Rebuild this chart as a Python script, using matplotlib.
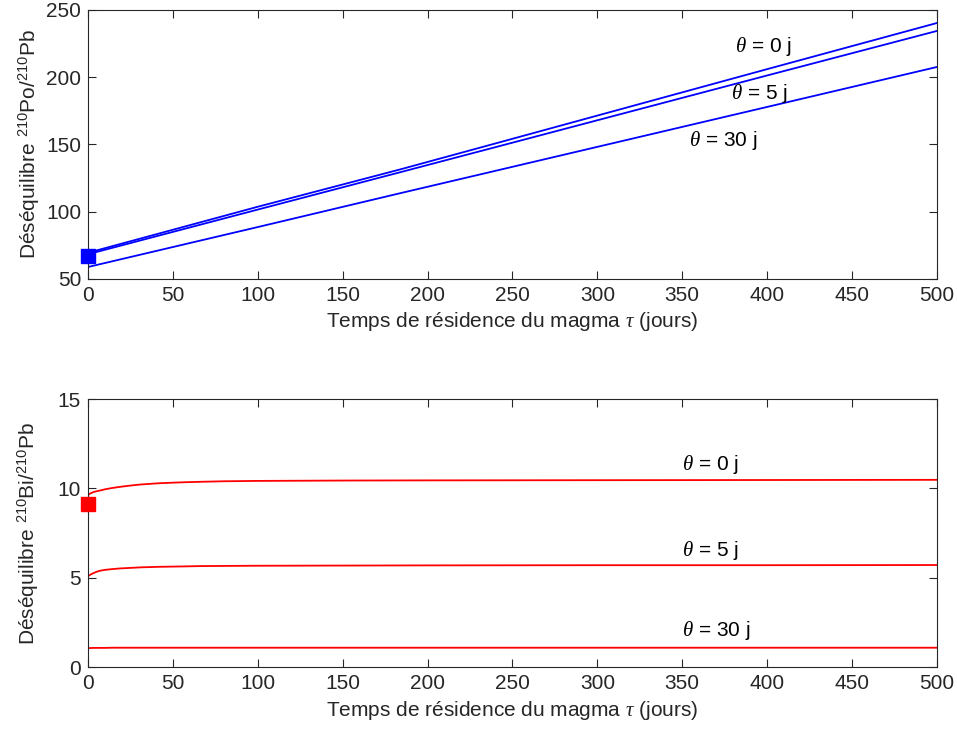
import numpy as np
import matplotlib
matplotlib.use('Agg')
import matplotlib.pyplot as plt

plt.rcParams['font.family'] = ['Liberation Sans', 'DejaVu Sans']
plt.rcParams['mathtext.fontset'] = 'custom'
plt.rcParams['mathtext.rm'] = 'Liberation Sans'
plt.rcParams['mathtext.it'] = 'Liberation Serif:italic'

# 210Po/210Pb (droites)
tau_po = [0, 100, 184, 243, 400, 500]
po_0 = [69.5, 103.7, 131.5, 151.8, 206.0, 240.3]
po_5 = [68.4, 101.6, 129.4, 149.0, 201.3, 234.4]
po_30 = [58.9, 88.6, 113.8, 131.3, 177.9, 207.6]
po_mesure = 67.1

# 210Bi/210Pb
tau_bi = [0, 1, 3, 5, 7, 10, 14, 19, 25, 31, 42, 55, 66, 80, 100, 150, 200, 300, 400, 500]
bi_0 = [9.62, 9.70, 9.79, 9.84, 9.88, 9.95, 10.02, 10.09, 10.16, 10.22, 10.29, 10.34,
        10.37, 10.40, 10.42, 10.44, 10.45, 10.46, 10.47, 10.48]
bi_5 = [5.09, 5.15, 5.25, 5.33, 5.39, 5.44, 5.48, 5.52, 5.55, 5.58, 5.61, 5.63,
        5.65, 5.66, 5.67, 5.68, 5.69, 5.70, 5.70, 5.71]
bi_30 = [1.06, 1.06, 1.07, 1.07, 1.07, 1.07, 1.08, 1.08, 1.08, 1.08, 1.08, 1.08,
         1.08, 1.08, 1.08, 1.08, 1.08, 1.08, 1.08, 1.08]
bi_mesure = 9.15

labels = [r'$\theta$ = 0 j', r'$\theta$ = 5 j', r'$\theta$ = 30 j']
xticks = np.arange(0, 501, 50)

fig = plt.figure(figsize=(9.57, 7.38), dpi=100)
ax1 = fig.add_axes([0.092, 0.622, 0.887, 0.3645])
ax2 = fig.add_axes([0.092, 0.0962, 0.887, 0.363])

gris = (0.15, 0.15, 0.15)
fs = 15

def style(ax):
    ax.set_xlim(0, 500)
    ax.set_xticks(xticks)
    ax.tick_params(direction='in', length=6, width=0.8, colors=gris, labelsize=fs,
                   top=True, right=True, pad=5)
    for s in ax.spines.values():
        s.set_color(gris)
        s.set_linewidth(0.8)
    ax.set_xlabel(r'Temps de résidence du magma $\tau$ (jours)', fontsize=fs, color=gris, labelpad=4)

# haut
for y in (po_0, po_5, po_30):
    ax1.plot(tau_po, y, color='blue', lw=1.3)
ax1.plot([0], [po_mesure], 's', color='blue', ms=10, clip_on=False, zorder=5)
ax1.set_ylim(50, 250)
ax1.set_yticks(np.arange(50, 251, 50))
style(ax1)
ax1.set_ylabel(r'Déséquilibre $^{210}$Po/$^{210}$Pb', fontsize=fs, color=gris, labelpad=3)
ax1.text(381, 223, labels[0], fontsize=fs, va='center')
ax1.text(379, 188, labels[1], fontsize=fs, va='center')
ax1.text(354, 153, labels[2], fontsize=fs, va='center')

# bas
for y in (bi_0, bi_5, bi_30):
    ax2.plot(tau_bi, y, color='red', lw=1.3)
ax2.plot([0], [bi_mesure], 's', color='red', ms=10, clip_on=False, zorder=5)
ax2.set_ylim(0, 15)
ax2.set_yticks(np.arange(0, 16, 5))
style(ax2)
ax2.set_ylabel(r'Déséquilibre $^{210}$Bi/$^{210}$Pb', fontsize=fs, color=gris, labelpad=12)
ax2.text(350, 11.36, labels[0], fontsize=fs, va='center')
ax2.text(350, 6.55, labels[1], fontsize=fs, va='center')
ax2.text(350, 2.07, labels[2], fontsize=fs, va='center')

fig.savefig('out.png', dpi=100)
